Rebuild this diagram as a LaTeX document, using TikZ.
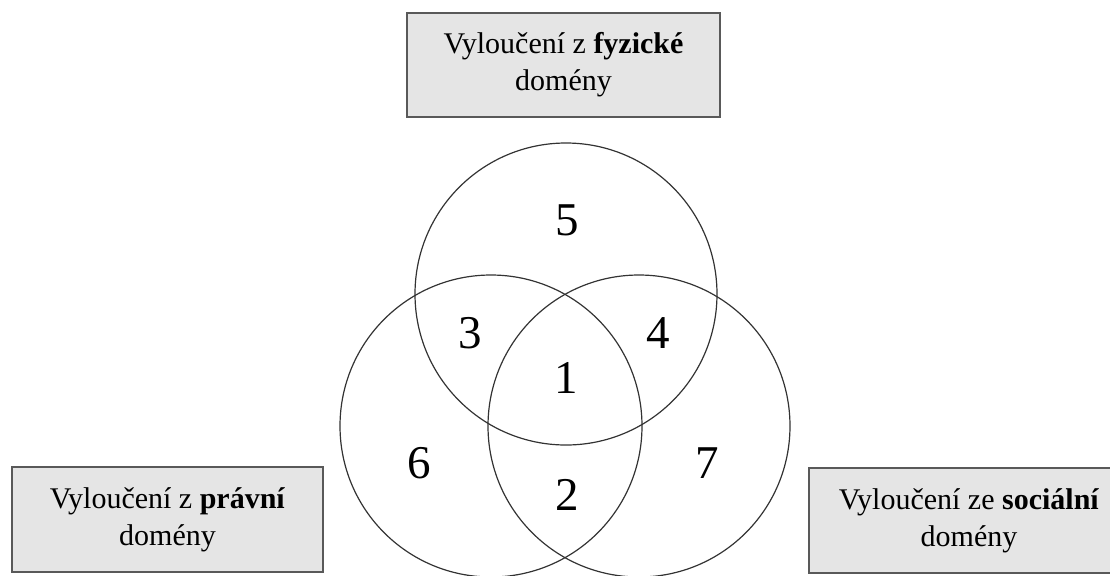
\documentclass[tikz,border=0pt]{standalone}
\usepackage{fontspec}
\setmainfont{Liberation Serif}
\usepackage{tikz}
\usetikzlibrary{positioning}

\begin{document}
\begin{tikzpicture}[
    x=0.5pt, y=-0.5pt,
    domainbox/.style={rectangle, draw=black!65, line width=1pt, fill=black!10, align=center, font=\fontsize{15}{18.5}\selectfont, inner sep=0pt},
    ring/.style={circle, draw=black!80, line width=0.6pt, minimum size=151pt, inner sep=0pt},
    region/.style={font=\fontsize{23.5}{26}\selectfont, inner sep=0pt},
]
\useasboundingbox (0,0) rectangle (1110,575);

% Domains
\node[domainbox, minimum width=156.5pt, minimum height=52pt] (phys) at (563.5,65) {Vyloučení z \textbf{fyzické}\\domény};
\node[domainbox, minimum width=155.5pt, minimum height=52.5pt] (legal) at (167.5,519.5) {Vyloučení z \textbf{právní}\\domény};
\node[domainbox, minimum width=160pt, minimum height=52.5pt] (social) at (969,520.5) {Vyloučení ze \textbf{sociální}\\domény};

% Circles
\node[ring] (ctop) at (566,294) {};
\node[ring] (cleft) at (491,426) {};
\node[ring] (cright) at (639,426) {};

% Regions
\node[region] (r1) at (566,378) {1};
\node[region] (r2) at (567,495) {2};
\node[region] (r3) at (470,333) {3};
\node[region] (r4) at (658,333) {4};
\node[region] (r5) at (567,220) {5};
\node[region] (r6) at (419,463) {6};
\node[region] (r7) at (707,463) {7};

\end{tikzpicture}
\end{document}
